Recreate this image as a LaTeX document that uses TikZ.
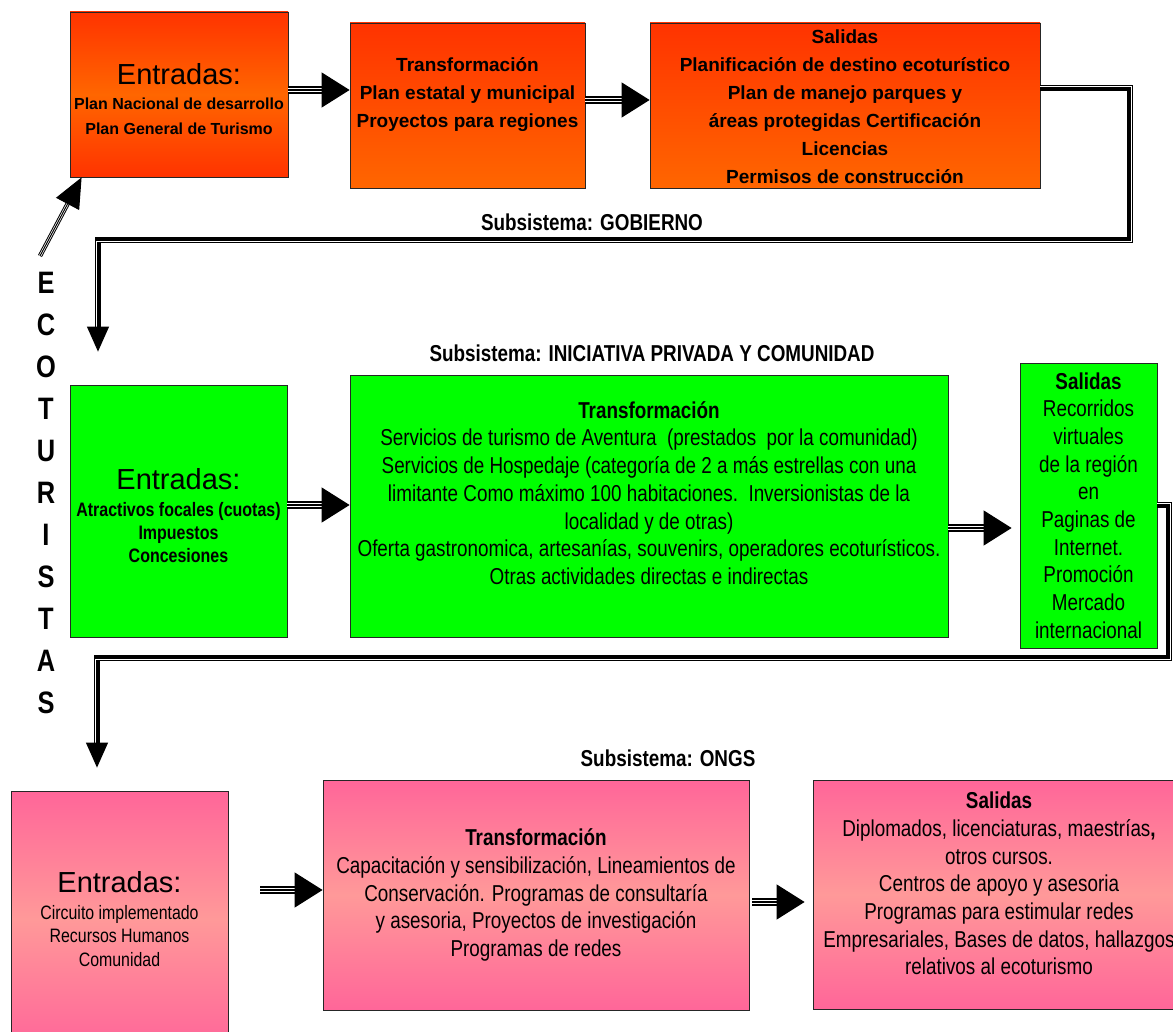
\documentclass[tikz,border=0pt]{standalone}
\usepackage{fontspec}
\setmainfont{Liberation Sans}
\newfontfamily\narrow{Liberation Sans}[FakeStretch=0.82]
\usetikzlibrary{arrows.meta}
\usetikzlibrary{calc}
\definecolor{rojizo}{HTML}{FF3300}
\definecolor{naranja}{HTML}{FF6600}
\definecolor{verde}{HTML}{00FF00}
\definecolor{rosa}{HTML}{FF6699}
\definecolor{salmon}{HTML}{FF9999}

\begin{document}
\begin{tikzpicture}[x=1pt,y=-1pt,line cap=round,
    caja/.style={draw=black!85,line width=0.8pt,inner sep=0pt},
    cajaroja/.style={caja,top color=rojizo,bottom color=naranja},
    cajarojamedia/.style={caja,top color=rojizo,bottom color=rojizo,middle color=naranja},
    cajaverde/.style={caja,fill=verde},
    cajarosa/.style={caja,top color=rosa,bottom color=rosa,middle color=salmon},
    texuno/.style={align=center,font=\bfseries\fontsize{19}{28}\selectfont},
    texdos/.style={align=center,font=\narrow\fontsize{23}{27.7}\selectfont},
    subsis/.style={font=\narrow\bfseries\fontsize{23}{26}\selectfont},
    cuerpo/.style={double=white,double distance=4pt,line width=1.6pt,line cap=butt},
    punta/.style={-{Triangle[length=28pt,width=35pt]},line width=1.2pt,line cap=butt},
    vueltanegra/.style={line width=6pt,line cap=butt,line join=miter},
    vueltablanca/.style={white,line width=1.4pt,line cap=butt,line join=miter},
    puntachica/.style={-{Triangle[length=25pt,width=22pt]},line width=1pt,line cap=butt}]
  \useasboundingbox (0,0) rectangle (1173,1032);
  \clip (0,0) rectangle (1173,1032);

  % Subsistema gobierno
  \node[cajarojamedia,minimum width=218,minimum height=165,
        label={[align=center,font=\bfseries\fontsize{16}{25}\selectfont,yshift=-5pt]center:{\normalfont\fontsize{29}{30}\selectfont Entradas:}\\Plan Nacional de desarrollo\\Plan General de Turismo}] (A) at (179,94.5) {};
  \node[cajaroja,minimum width=235,minimum height=165,
        label={[texuno,yshift=11pt]center:Transformación\\Plan estatal y municipal\\Proyectos para regiones}] (B) at (467.5,105.5) {};
  \node[cajaroja,minimum width=390,minimum height=165,
        label={[texuno,yshift=-1.5pt]center:Salidas\\Planificación de destino ecoturístico\\Plan de manejo parques y\\áreas protegidas Certificación\\Licencias\\Permisos de construcción}] (C) at (845,105.5) {};
  \node[subsis] (sgob) at (592,222) {Subsistema: GOBIERNO};

  % Subsistema iniciativa privada
  \node[subsis] (sini) at (652,353) {Subsistema: INICIATIVA PRIVADA Y COMUNIDAD};
  \node[cajaverde,minimum width=217,minimum height=252,
        label={[align=center,font=\narrow\bfseries\fontsize{19.5}{23}\selectfont,yshift=-4.5pt]center:{\normalfont\fontsize{29}{30}\selectfont Entradas:}\\[4pt]Atractivos focales (cuotas)\\Impuestos\\Concesiones}] (D) at (178.5,511) {};
  \node[cajaverde,minimum width=598,minimum height=262,
        label={[texdos,yshift=13pt]center:\textbf{Transformación}\\Servicios de turismo de Aventura\ \ (prestados\ \ por la comunidad)\\Servicios de Hospedaje (categoría de 2 a más estrellas con una\\limitante Como máximo 100 habitaciones.\ \ Inversionistas de la\\localidad y de otras)\\Oferta gastronomica, artesanías, souvenirs, operadores ecoturísticos.\\Otras actividades directas e indirectas}] (E) at (649,506) {};
  \node[cajaverde,texdos,minimum width=137,minimum height=285] (F) at (1088.5,505.5)
        {\textbf{Salidas}\\Recorridos\\virtuales\\de la región\\en\\Paginas de\\Internet.\\Promoción\\Mercado\\internacional};

  % Subsistema ONGS
  \node[subsis] (song) at (668,758) {Subsistema: ONGS};
  \node[cajarosa,minimum width=217,minimum height=256,align=center,
        font=\narrow\fontsize{19.4}{23.5}\selectfont] (G) at (119.5,919)
        {{\normalfont\fontsize{29}{30}\selectfont Entradas:}\\[3pt]Circuito implementado\\Recursos Humanos\\Comunidad};
  \node[cajarosa,texdos,minimum width=426,minimum height=230] (H) at (536,895)
        {\textbf{Transformación}\\Capacitación y sensibilización, Lineamientos de\\Conservación. Programas de consultaría\\y asesoria, Proyectos de investigación\\Programas de redes};
  \node[cajarosa,minimum width=372,minimum height=229,
        label={[texdos,yshift=11pt]center:\textbf{Salidas}\\Diplomados, licenciaturas, maestrías\textbf{,}\\otros cursos.\\Centros de apoyo y asesoria\\Programas para estimular redes\\Empresariales, Bases de datos, hallazgos\\relativos al ecoturismo}] (I) at (999,894.5) {};

  % ecoturistas
  \node[align=center,inner sep=0pt,font=\narrow\bfseries\fontsize{31}{42}\selectfont] (eco) at (46,493)
        {E\\C\\O\\T\\U\\R\\I\\S\\T\\A\\S};
  \coordinate (ent) at (40,256);
  \draw[double=white,double distance=2.4pt,line width=1pt,line cap=butt,shorten >=28pt] (ent) -- ($(A.south west)+(12,0)$);
  \draw[-{Triangle[length=30pt,width=26pt]},line width=1pt,line cap=butt] (ent) -- ($(A.south west)+(12,0)$);

  % flechas entre cajas
  \coordinate (ab) at ($(A.east)+(0,-4.5)$);
  \draw[cuerpo,shorten >=28pt] (ab) -- (ab -| B.west);
  \draw[punta] (ab) -- (ab -| B.west);
  \coordinate (bc) at ($(B.east)+(0,-5.5)$);
  \draw[cuerpo,shorten >=28pt] (bc) -- (bc -| C.west);
  \draw[punta] (bc) -- (bc -| C.west);
  \coordinate (de) at ($(D.east)+(0,-6)$);
  \draw[cuerpo,shorten >=28pt] (de) -- (de -| E.west);
  \draw[punta] (de) -- (de -| E.west);
  \coordinate (ef) at ($(E.east)+(0,22)$);
  \draw[cuerpo,shorten >=36pt] (ef) -- (ef -| F.west);
  \draw[punta,shorten >=8pt] (ef) -- (ef -| F.west);
  \coordinate (gh) at ($(G.east)+(0,-29)$);
  \draw[cuerpo,shorten <=32pt,shorten >=28pt] (gh) -- (gh -| H.west);
  \draw[punta,shorten <=32pt] (gh) -- (gh -| H.west);
  \coordinate (hi) at ($(H.east)+(0,7)$);
  \draw[cuerpo,shorten <=3pt,shorten >=36pt] (hi) -- (hi -| I.west);
  \draw[punta,shorten <=3pt,shorten >=8pt] (hi) -- (hi -| I.west);

  % retorno gobierno -> iniciativa privada
  \coordinate (g1) at (C.east |- 0,88);
  \coordinate (g2) at (1130,88);
  \coordinate (g3) at (1130,240);
  \coordinate (g4) at (98,240);
  \draw[vueltanegra,shorten >=58pt] (g1) -- (g2) -- (g3) -- (g4) -- (g4 |- D.north);
  \draw[vueltablanca,shorten >=58pt] ($(g1)+(0,-1.3)$) -- ($(g2)+(1.3,-1.3)$) -- ($(g3)+(1.3,1.3)$)
        -- ($(g4)+(-1.3,1.3)$) -- ($(g4 |- D.north)+(-1.3,0)$);
  \draw[puntachica,shorten <=86pt,shorten >=33pt] (g4) -- (g4 |- D.north);

  % retorno iniciativa privada -> ONGS
  \coordinate (h1) at (F.east |- 0,505);
  \coordinate (h2) at (1169,505);
  \coordinate (h3) at (1169,658);
  \coordinate (h4) at (97,658);
  \draw[vueltanegra,shorten >=48pt] (h1) -- (h2) -- (h3) -- (h4) -- (h4 |- G.north);
  \draw[vueltablanca,shorten >=48pt] ($(h1)+(0,-1.3)$) -- ($(h2)+(1.3,-1.3)$) -- ($(h3)+(1.3,1.3)$)
        -- ($(h4)+(-1.3,1.3)$) -- ($(h4 |- G.north)+(-1.3,0)$);
  \draw[puntachica,shorten <=84pt,shorten >=23pt] (h4) -- (h4 |- G.north);
\end{tikzpicture}
\end{document}
